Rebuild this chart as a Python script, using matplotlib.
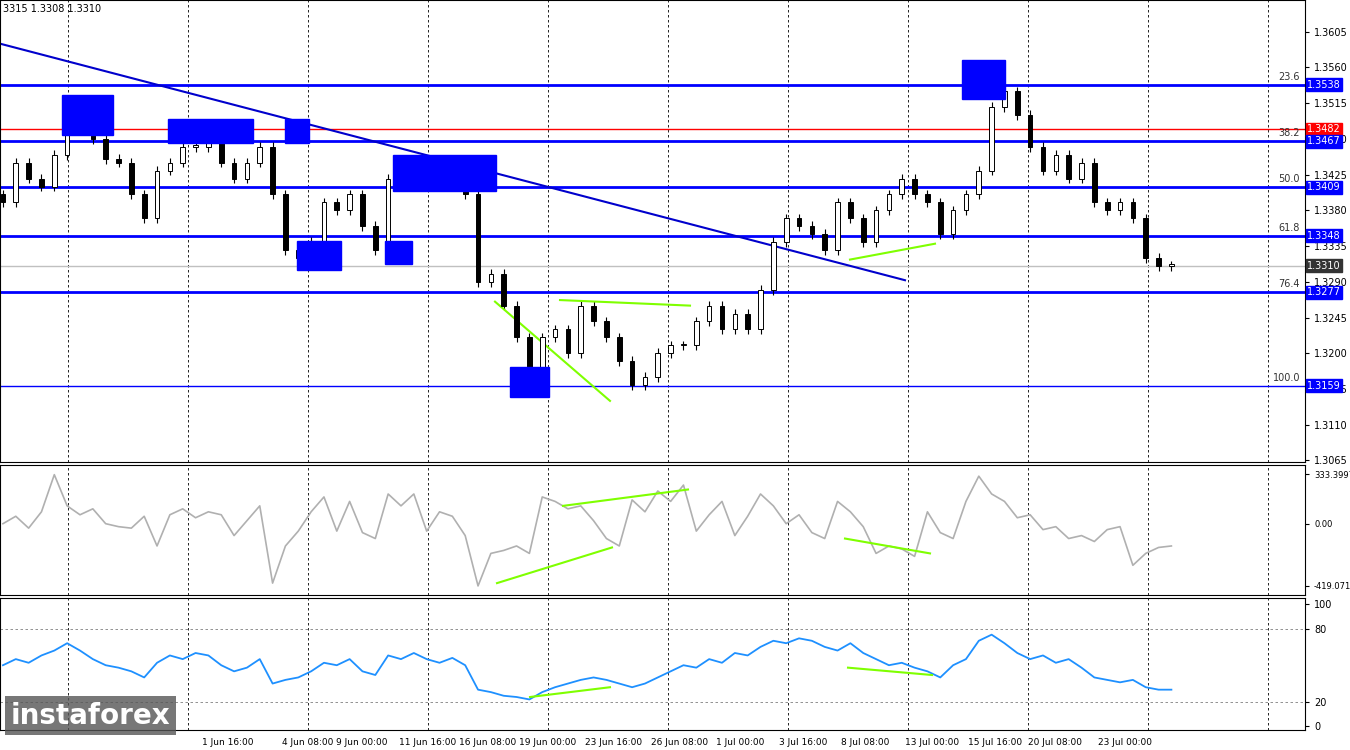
import matplotlib
matplotlib.use("Agg")
import matplotlib.pyplot as plt
from matplotlib.patches import Rectangle
import numpy as np

closes = [1.3390,1.3440,1.3420,1.3410,1.3450,1.3500,1.3510,1.3470,1.3445,1.3440,1.3400,1.3370,1.3430,1.3440,
          1.3460,1.3460,1.3470,1.3440,1.3420,1.3440,1.3460,1.3400,1.3330,1.3320,1.3340,1.3390,1.3380,1.3400,
          1.3360,1.3330,1.3420,1.3420,1.3440,1.3420,1.3410,1.3430,1.3400,1.3290,1.3300,1.3260,1.3220,1.3170,
          1.3220,1.3230,1.3200,1.3260,1.3240,1.3220,1.3190,1.3160,1.3170,1.3200,1.3210,1.3210,1.3240,1.3260,
          1.3230,1.3250,1.3230,1.3280,1.3340,1.3370,1.3360,1.3350,1.3330,1.3390,1.3370,1.3340,1.3380,1.3400,
          1.3420,1.3400,1.3390,1.3350,1.3380,1.3400,1.3430,1.3510,1.3530,1.3500,1.3460,1.3430,1.3450,1.3420,
          1.3440,1.3390,1.3380,1.3390,1.3370,1.3320,1.3310,1.3310]
cci = [0,50,-30,80,330,120,60,100,0,-20,-30,50,-150,60,100,40,80,60,-80,20,120,-400,-150,-50,80,180,-50,
       150,-60,-100,200,120,200,-50,80,50,-80,-419,-200,-180,-150,-200,180,150,100,120,20,-100,-150,160,80,
       220,150,260,-50,60,150,-80,50,200,120,0,60,-60,-100,150,80,-20,-200,-150,-170,-220,80,-60,-100,150,
       320,200,150,40,60,-40,-20,-100,-80,-120,-40,-20,-280,-200,-160,-150]
rsi = [50,55,52,58,62,68,62,55,50,48,45,40,52,58,55,60,58,50,45,48,55,35,38,40,45,52,50,55,45,42,58,55,
       60,55,52,56,50,30,28,25,24,22,28,32,35,38,40,38,35,32,35,40,45,50,48,55,52,60,58,65,70,68,72,70,
       65,62,68,60,55,50,52,48,45,40,50,55,70,75,68,60,55,58,52,55,48,40,38,36,38,32,30,30]
levels = [1.3538,1.3482,1.3467,1.3409,1.3348,1.3277,1.3159]
level_fib = ["23.6","38.2","38.2","50.0","61.8","76.4","100.0"]
xlabels = ["1 Jun 16:00","4 Jun 08:00","9 Jun 00:00","11 Jun 16:00","16 Jun 08:00","19 Jun 00:00",
           "23 Jun 16:00","26 Jun 08:00","1 Jul 00:00","3 Jul 16:00","8 Jul 08:00","13 Jul 00:00",
           "15 Jul 16:00","20 Jul 08:00","23 Jul 00:00"]
xlabel_px = [228,308,362,428,488,548,614,680,740,803,865,932,995,1055,1125]

PX = 12.84
def px2i(p): return p/PX - 0.23
XL = (px2i(0), px2i(1305))

fig = plt.figure(figsize=(13.5,7.5), dpi=100)
W = 1305/1350
ax = fig.add_axes([0, 1-462/750, W, 462/750])
ax2 = fig.add_axes([0, 1-595/750, W, 130/750])
ax3 = fig.add_axes([0, 1-730/750, W, 132/750])

n = len(closes)
idx = np.arange(n)
opens = [closes[0]+0.0010] + closes[:-1]
for i in idx:
    o, c = opens[i], closes[i]
    hi = max(o,c)+0.0006; lo = min(o,c)-0.0006
    ax.vlines(i, lo, hi, color="black", lw=0.8)
    ax.add_patch(Rectangle((i-0.18, min(o,c)), 0.36, max(abs(c-o),0.0002),
                           facecolor="white" if c>=o else "black", edgecolor="black", lw=0.7, zorder=3))

for lv in levels:
    ax.axhline(lv, color="red" if lv==1.3482 else "#0000ff", lw=1 if lv in (1.3482,1.3159) else 2, zorder=1)
ax.axhline(1.3310, color="#c0c0c0", lw=1, zorder=1)
for lv, f in zip(levels, level_fib):
    if lv==1.3482: continue
    ax.text(px2i(1300), lv+0.0004, f, ha="right", va="bottom", fontsize=7, color="#333")

ax.plot([px2i(0), px2i(905)], [1.3590, 1.3292], color="#0000cc", lw=1.5, zorder=2)
g = "#7fff00"
for (p1,y1,p2,y2) in [(495,1.3265,610,1.3140),(560,1.3267,690,1.3260),(850,1.3318,935,1.3338)]:
    ax.plot([px2i(p1),px2i(p2)],[y1,y2],color=g,lw=1.5)
for (p1,p2,yt,yb) in [(62,113,1.3525,1.3475),(168,253,1.3495,1.3465),(285,309,1.3495,1.3465),
                      (297,341,1.3342,1.3305),(385,412,1.3342,1.3313),(393,496,1.3450,1.3405),
                      (510,549,1.3183,1.3145),(962,1005,1.3570,1.3520)]:
    ax.add_patch(Rectangle((px2i(p1),yb),px2i(p2)-px2i(p1),yt-yb,color="#0000ff",zorder=4))

ax.set_ylim(1.3063, 1.3645)
ax2.set_ylim(-480, 395)
ax3.set_ylim(-3, 105)
for a in (ax,ax2,ax3):
    a.set_xlim(*XL)
    a.set_xticks([]); a.yaxis.tick_right()
    a.tick_params(axis="y", labelsize=7, length=3)
    for xp in range(68, 1305, 120):
        a.axvline(px2i(xp), color="black", ls=(0,(3,3)), lw=0.6, zorder=0)
ax.set_yticks([1.3065,1.3110,1.3155,1.3200,1.3245,1.3290,1.3335,1.3380,1.3425,1.3470,1.3515,1.3560,1.3605])
ax.set_yticklabels([f"{v:.4f}" for v in ax.get_yticks()])
for lv in levels + [1.3310]:
    col = "red" if lv==1.3482 else ("#333333" if lv==1.3310 else "#0000ff")
    ax.text(1.0+2/1305, lv, f"{lv:.4f}", transform=ax.get_yaxis_transform(), fontsize=7, color="white",
            va="center", ha="left", bbox=dict(boxstyle="square,pad=0.15", fc=col, ec=col), clip_on=False)

ax2.plot(np.arange(len(cci)), cci, color="#b0b0b0", lw=1.2)
ax2.plot([px2i(497),px2i(612)],[-400,-160],color=g,lw=1.5)
ax2.plot([px2i(563),px2i(688)],[120,230],color=g,lw=1.5)
ax2.plot([px2i(845),px2i(930)],[-100,-200],color=g,lw=1.5)
ax2.set_yticks([333.3997,0,-419.071]); ax2.set_yticklabels(["333.3997","0.00","-419.071"])
ax2.tick_params(axis="y", labelsize=6)

ax3.plot(np.arange(len(rsi)), rsi, color="#1e90ff", lw=1.3)
ax3.axhline(80, color="gray", ls=(0,(3,3)), lw=0.6); ax3.axhline(20, color="gray", ls=(0,(3,3)), lw=0.6)
ax3.plot([px2i(530),px2i(610)],[24,32],color=g,lw=1.5)
ax3.plot([px2i(848),px2i(932)],[48,42],color=g,lw=1.5)
ax3.set_yticks([0,20,80,100])
for xp, lab in zip(xlabel_px, xlabels):
    ax3.text(px2i(xp), -0.06, lab, transform=ax3.get_xaxis_transform(), ha="center", va="top", fontsize=6.5)

fig.text(0.002, 0.995, "3315 1.3308 1.3310", fontsize=7, va="top")
fig.text(0.008, 0.035, "instaforex", fontsize=20, color="white", fontweight="bold",
         bbox=dict(fc="#555555", ec="none", alpha=0.8))
fig.savefig("out.png", dpi=100)
